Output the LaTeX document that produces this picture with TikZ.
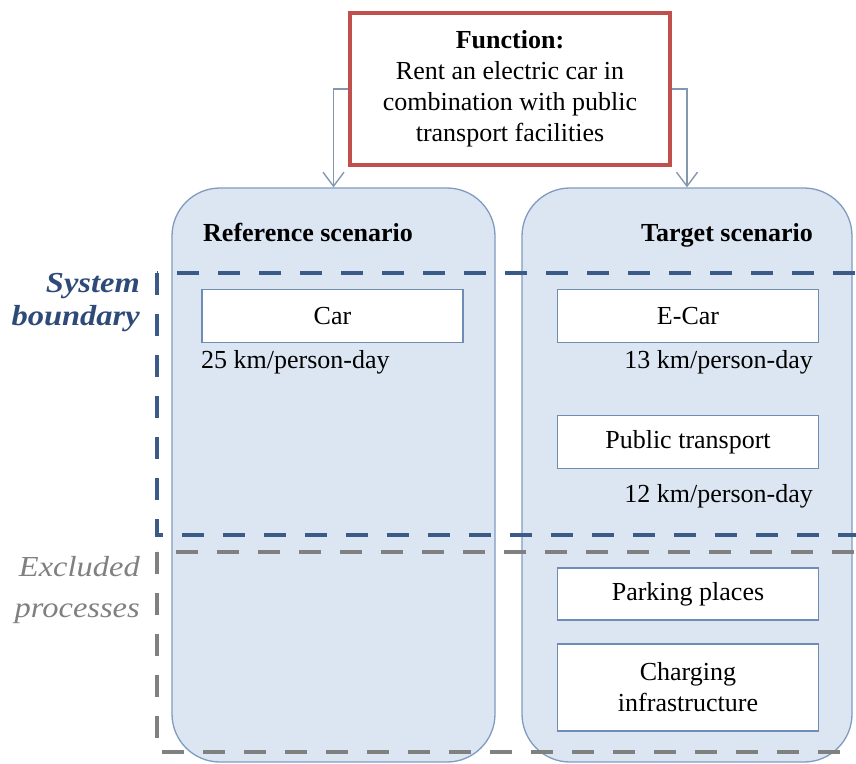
\documentclass[tikz,border=0pt]{standalone}
\usepackage{fontspec}
\setmainfont{Liberation Serif}
\usetikzlibrary{arrows.meta}

\definecolor{panelfill}{HTML}{DCE6F2}
\definecolor{panelline}{HTML}{7F9BC0}
\definecolor{boxline}{HTML}{6F8CB4}
\definecolor{funcred}{HTML}{C0504D}
\definecolor{sysblue}{HTML}{3A5A88}
\definecolor{systext}{HTML}{2E4A78}
\definecolor{exclgray}{HTML}{808080}
\definecolor{flowgray}{HTML}{8497B0}

\begin{document}
\begin{tikzpicture}[x=1pt, y=-1pt, every node/.style={font=\fontsize{26}{31}\selectfont}]
		\tikzstyle{panel}=[draw=panelline, fill=panelfill, line width=1.3pt, rounded corners=48pt, minimum height=574pt]
		\tikzstyle{process}=[draw=boxline, fill=white, line width=1.2pt, minimum width=261pt, minimum height=53pt, align=center, inner sep=2pt]
		\tikzstyle{txt}=[inner sep=0pt]
		\tikzstyle{flow}=[draw=flowgray, line width=1.4pt, -{Straight Barb[length=14pt,width=21pt]}]
		\tikzstyle{boundary}=[line width=4.5pt, dash pattern=on 22pt off 19pt]

		\useasboundingbox (0,0) rectangle (856,763);
		\clip (0,0) rectangle (856,763);

    % Scenario panels
		\node[panel, minimum width=323pt](refpanel) at (333.5,475){};
		\node[panel, minimum width=330pt](tgtpanel) at (687,475){};

		\node[txt, anchor=base west, font=\fontsize{26}{31}\selectfont\bfseries](refhead) at (203,241){Reference scenario};
		\node[txt, anchor=base east, font=\fontsize{26}{31}\selectfont\bfseries](tgthead) at (813,241){Target scenario};

    % Boundaries
		\draw[boundary, draw=sysblue] (157,273) rectangle (900,535);
		\draw[boundary, draw=exclgray] (157,552) rectangle (900,752);

		\node[txt, anchor=east, align=right, text=systext, xscale=1.12, font=\fontsize{29}{33}\selectfont\bfseries\itshape](syslbl) at (140,303){System\\boundary};
		\node[txt, anchor=east, align=right, text=exclgray, xscale=1.12, font=\fontsize{29}{41}\selectfont\itshape](excllbl) at (140,590){Excluded\\processes};

    % Reference scenario
		\node[process](car) at (332.5,316){Car};
		\node[txt, anchor=base west](carkm) at (201,368){25 km/person-day};

    % Target scenario
		\node[process](ecar) at (688,316){E-Car};
		\node[txt, anchor=base east](ecarkm) at (813,368){13 km/person-day};
		\node[process](pt) at (688,442){Public transport};
		\node[txt, anchor=base east](ptkm) at (813,502){12 km/person-day};
		\node[process, minimum height=52pt](park) at (688,594){Parking places};
		\node[process, minimum height=87pt](charge) at (688,687.5){Charging\\infrastructure};

    % Function
		\node[draw=funcred, fill=white, line width=4.5pt, minimum width=320pt, minimum height=152pt, align=center](func) at (510,89){\textbf{Function:}\\Rent an electric car in\\combination with public\\transport facilities};

    % Connections
		\draw[flow] (func.west) -| (refpanel.north);
		\draw[flow] (func.east) -| (tgtpanel.north);

  \end{tikzpicture}
\end{document}
